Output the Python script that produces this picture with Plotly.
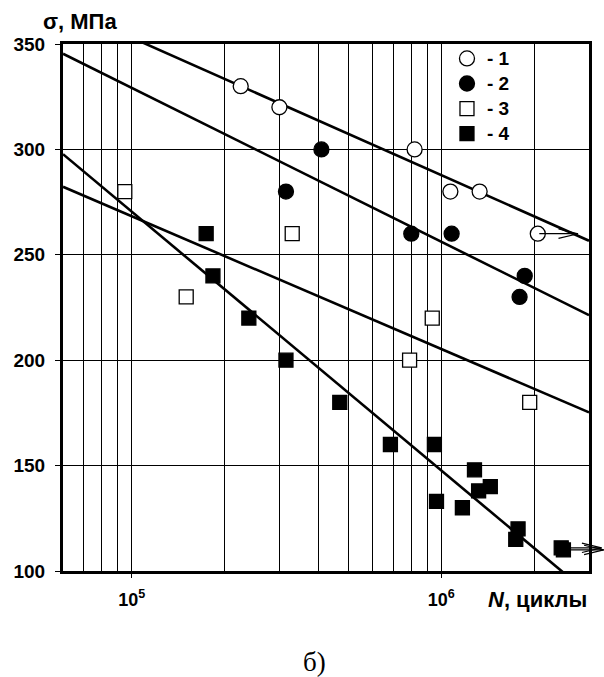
import numpy as np
import plotly.graph_objects as go

# ---- data ----
s1_N = [2.25e5, 3.0e5, 8.2e5, 1.07e6, 1.33e6, 2.05e6]
s1_sigma = [330, 320, 300, 280, 280, 260]

s2_N = [3.15e5, 4.1e5, 8.0e5, 1.08e6, 1.86e6, 1.79e6]
s2_sigma = [280, 300, 260, 260, 240, 230]

s3_N = [9.5e4, 1.5e5, 3.3e5, 9.35e5, 7.9e5, 1.93e6]
s3_sigma = [280, 230, 260, 220, 200, 180]

s4_N = [1.74e5, 1.83e5, 2.39e5, 3.15e5, 4.7e5, 6.85e5, 9.5e5, 9.65e5,
        1.17e6, 1.28e6, 1.32e6, 1.44e6, 1.77e6, 1.74e6, 2.44e6, 2.48e6]
s4_sigma = [260, 240, 220, 200, 180, 160, 160, 133,
            130, 148, 138, 140, 120, 115, 111, 110]

# fitted lines: sigma = a + b*log10(N)
fit_a = [679.0, 694.2, 583.3, 884.5]
fit_b = [-65.2, -73.0, -63.0, -122.8]
fit_N = [6e4, 3e6]

# run-outs (specimens that did not fail)
runout_N = [2.05e6, 2.44e6, 2.48e6]
runout_sigma = [260, 111, 110]

names = ["- 1", "- 2", "- 3", "- 4"]
x_range_N = [6e4, 3e6]
y_range = [100, 350]
y_ticks = [100, 150, 200, 250, 300, 350]
x_ticks = [1e5, 1e6]
x_ticktext = ["10<sup>5</sup>", "10<sup>6</sup>"]
x_minor = [7e4, 8e4, 9e4, 2e5, 3e5, 4e5, 5e5, 6e5, 7e5, 8e5, 9e5, 2e6]

FONT = "Liberation Sans"

fig = go.Figure()

# regression lines
for a, b in zip(fit_a, fit_b):
    ys = [a + b * np.log10(n) for n in fit_N]
    fig.add_trace(go.Scatter(x=fit_N, y=ys, mode="lines",
                             line=dict(color="black", width=2.6),
                             showlegend=False, hoverinfo="skip"))

series = [
    (s1_N, s1_sigma, "circle", "white", 15),
    (s2_N, s2_sigma, "circle", "black", 15),
    (s3_N, s3_sigma, "square", "white", 14),
    (s4_N, s4_sigma, "square", "black", 14),
]
for (xs, ys, sym, fill, size), nm in zip(series, names):
    fig.add_trace(go.Scatter(
        x=xs, y=ys, mode="markers",
        name='<span style="font-size:19px">' + nm + "</span>",
        marker=dict(symbol=sym, size=size, color=fill,
                    line=dict(color="black", width=1.3)),
        cliponaxis=False))

# run-out arrows (drawn as annotation segments, not clipped)
shaft = 0.13   # decades
head = 0.068   # decades
hh = 2.4       # MPa
annotations = []
for n, s in zip(runout_N, runout_sigma):
    lx = np.log10(n)
    tip = lx + shaft
    segs = [((lx, s), (tip, s)),
            ((tip - head, s + hh), (tip, s)),
            ((tip - head, s - hh), (tip, s))]
    for (x0, y0), (x1, y1) in segs:
        annotations.append(dict(
            x=x1, y=y1, ax=x0, ay=y0, xref="x", yref="y",
            axref="x", ayref="y", text="", showarrow=True,
            arrowhead=0, arrowwidth=1.2, arrowcolor="black", standoff=0))

annotations += [
    dict(text="σ, МПа", x=0.032, y=1.042, xref="paper", yref="paper",
         xanchor="center", yanchor="middle", showarrow=False,
         font=dict(family=FONT, size=22, color="black", weight=700)),
    dict(text="<i>N</i>, циклы", x=0.902, y=-0.055, xref="paper",
         yref="paper", xanchor="center", yanchor="middle", showarrow=False,
         font=dict(family=FONT, size=22, color="black", weight=700)),
    dict(text="б)", x=0.479, y=-0.173, xref="paper", yref="paper",
         xanchor="center", yanchor="middle", showarrow=False,
         font=dict(family="Liberation Serif", size=27, color="black",
                   weight=400)),
]

fig.update_layout(
    width=604, height=677,
    margin=dict(l=63, r=15, t=44, b=106),
    paper_bgcolor="white", plot_bgcolor="white",
    font=dict(family=FONT, color="black"),
    showlegend=True,
    legend=dict(x=0.73, y=1.006, xanchor="left", yanchor="top",
                bgcolor="rgba(0,0,0,0)", borderwidth=0,
                font=dict(family=FONT, size=17, color="black", weight=700),
                itemwidth=30, tracegroupgap=0),
    annotations=annotations,
)

fig.update_xaxes(
    type="log", range=[np.log10(x_range_N[0]), np.log10(x_range_N[1])],
    tickvals=x_ticks, ticktext=x_ticktext,
    ticks="outside", ticklen=4, tickwidth=1, tickcolor="black",
    tickfont=dict(family=FONT, size=18, color="black", weight=700),
    ticklabelstandoff=6,
    showgrid=True, gridcolor="black", gridwidth=1,
    minor=dict(tickvals=x_minor, showgrid=True, gridcolor="black",
               gridwidth=1, ticks=""),
    showline=True, linewidth=3, linecolor="black", mirror=True,
    zeroline=False,
)
fig.update_yaxes(
    range=y_range, tickvals=y_ticks,
    ticks="outside", ticklen=5, tickwidth=1, tickcolor="black",
    tickfont=dict(family=FONT, size=19, color="black", weight=700),
    ticklabelstandoff=6,
    showgrid=True, gridcolor="black", gridwidth=1,
    showline=True, linewidth=3, linecolor="black", mirror=True,
    zeroline=False,
)

fig.write_html("out.html")
